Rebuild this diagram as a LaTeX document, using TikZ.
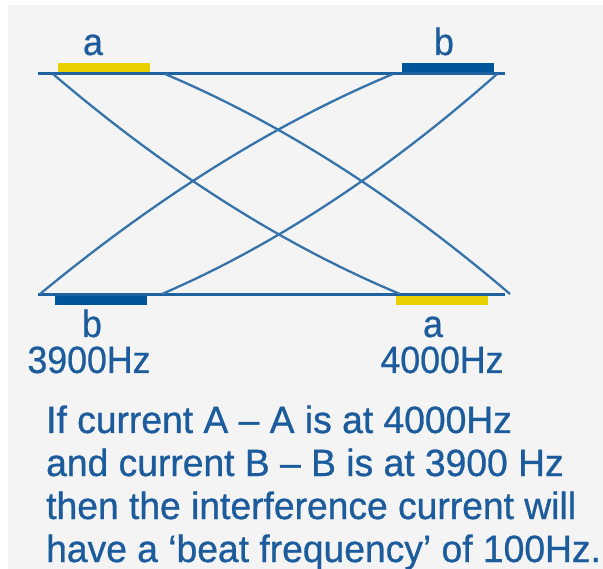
\documentclass[tikz,border=0pt]{standalone}
\usepackage{fontspec}
\setmainfont{Liberation Sans}[FakeStretch=0.94, FakeBold=0.6]
\newfontfamily\notefont{Liberation Sans}[FakeStretch=0.98, FakeBold=0.8]
\usetikzlibrary{positioning,calc}
\definecolor{bggrey}{HTML}{F4F4F4}
\definecolor{wireblue}{HTML}{1E63A0}
\definecolor{barblue}{HTML}{00559A}
\definecolor{baryellow}{HTML}{E8CF00}
\definecolor{textblue}{HTML}{1C5C9C}

\begin{document}
\begin{tikzpicture}[x=1pt, y=-1pt,
  wire/.style={draw=wireblue, line width=3pt},
  beam/.style={draw=wireblue!90, line width=2.3pt},
  bar/.style={rectangle, inner sep=0pt, minimum width=92pt, minimum height=9pt},
  lbl/.style={text=textblue, inner sep=0pt, font=\fontsize{38}{43}\selectfont},
  note/.style={lbl, font=\notefont\fontsize{38}{43}\selectfont}
]
\useasboundingbox (0,0) rectangle (603,569);
\fill[white] (0,0) rectangle (603,569);
\fill[bggrey] (8,5) rectangle (603,569);

\coordinate (tl) at (38,73.5);
\coordinate (tr) at (505,73.5);
\coordinate (bl) at (38,294.5);
\coordinate (br) at (505,294.5);

\node[bar, fill=baryellow, anchor=south west] (abar) at (58,72) {};
\node[bar, fill=barblue, anchor=south west] (bbar) at (402,72) {};
\node[bar, fill=barblue, anchor=north west] (bbar2) at (55,296) {};
\node[bar, fill=baryellow, anchor=north west] (abar2) at (396,296) {};

\draw[wire] (tl) -- (tr);
\draw[wire] (bl) -- (br);

\coordinate (a1) at (53,74);
\coordinate (a2) at (400,294);
\coordinate (b1) at (165,74);
\coordinate (b2) at (510,294);
\coordinate (a3) at (497,74);
\coordinate (a4) at (162,294);
\coordinate (b3) at (393,74);
\coordinate (b4) at (40,294);

\draw[beam] (a1) .. controls (167.7,172) and (283.3,245.3) .. (a2);
\draw[beam] (b1) .. controls (280.3,122.7) and (395.3,196) .. (b2);
\draw[beam] (a3) .. controls (386.3,172) and (274.7,245.3) .. (a4);
\draw[beam] (b3) .. controls (276.3,122.7) and (158.7,196) .. (b4);

\node[lbl, anchor=base] (atop) at (93,55) {a};
\node[lbl, anchor=base] (btop) at (444,55) {b};
\node[lbl, anchor=base] (bbot) at (92,337) {b};
\node[lbl, anchor=base] (bfreq) at (89,373) {3900Hz};
\node[lbl, anchor=base] (abot) at (433,337) {a};
\node[lbl, anchor=base] (afreq) at (442,373) {4000Hz};

\node[note, anchor=base west] (line1) at (46,433) {If current A – A is at 4000Hz};
\node[note, anchor=base west] (line2) at (46,476) {and current B – B is at 3900 Hz};
\node[note, anchor=base west] (line3) at (46,519) {then the interference current will};
\node[note, anchor=base west] (line4) at (46,562) {have a ‘beat frequency’ of 100Hz.};
\end{tikzpicture}
\end{document}
